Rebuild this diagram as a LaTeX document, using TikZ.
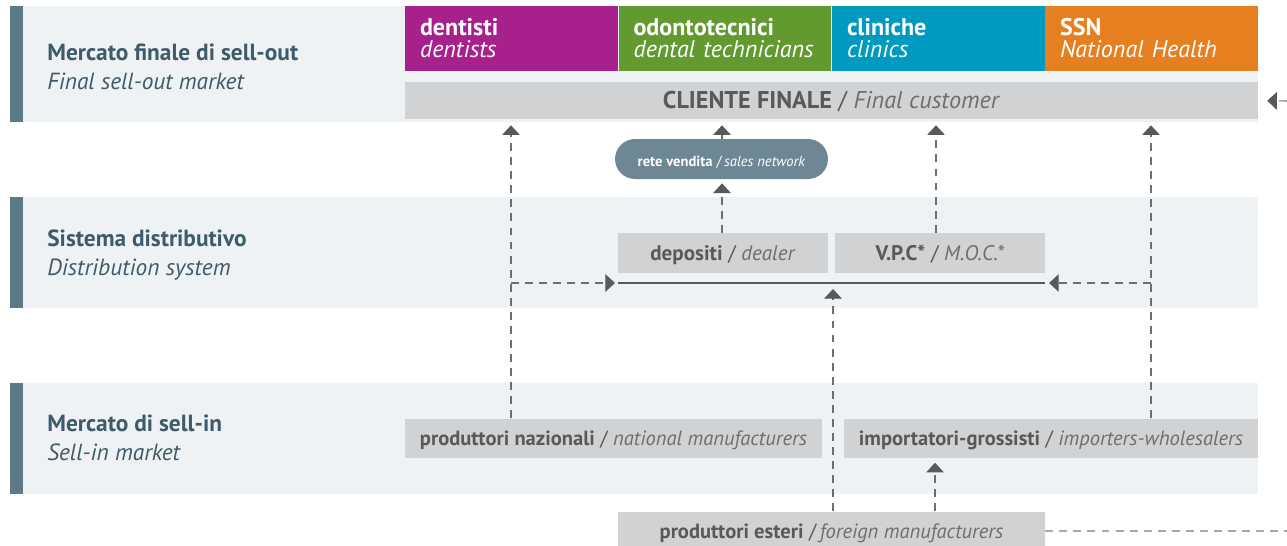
\documentclass[tikz,border=0pt]{standalone}
\usepackage{fontspec}
\setmainfont{PT Sans}
\usetikzlibrary{arrows.meta}
\definecolor{bandbg}{HTML}{EFF2F5}
\definecolor{bandbar}{HTML}{5F7A87}
\definecolor{bandtxt}{HTML}{3E5B6B}
\definecolor{boxgrey}{HTML}{D1D2D4}
\definecolor{txtgrey}{HTML}{58595B}
\definecolor{itgrey}{HTML}{6D6E70}
\definecolor{dentcol}{HTML}{A8208C}
\definecolor{odontcol}{HTML}{629A30}
\definecolor{clincol}{HTML}{0099BF}
\definecolor{ssncol}{HTML}{E67F1F}
\definecolor{retecol}{HTML}{6D8795}
\definecolor{lightdash}{HTML}{A7A9AC}
\begin{document}
\begin{tikzpicture}[x=0.02cm, y=-0.02cm,
  band/.style={fill=bandbg},
  bar/.style={fill=bandbar},
  bandlbl/.style={anchor=base west, align=left, inner sep=0pt, text=bandtxt,
    font=\fontsize{13.3}{16.5}\selectfont},
  custbox/.style={fill=#1, minimum width=4.26cm, minimum height=1.3cm, inner xsep=0.3cm,
    text width=3.66cm, align=left, text=white, font=\fontsize{13.7}{12.5}\selectfont},
  greybox/.style={fill=boxgrey, minimum height=0.78cm, inner sep=0pt, text=txtgrey,
    text height=1.8ex, text depth=0pt, font=\fontsize{11.7}{13}\selectfont},
  flow/.style={draw=itgrey, line width=0.6pt, dash pattern=on 4.5pt off 3.5pt,
    -{Triangle[length=5.5pt, width=10pt, color=txtgrey]}},
  mainline/.style={draw=txtgrey, line width=1.5pt}
]
\useasboundingbox (0,0) rectangle (1287,545);
% bands
\fill[band] (10,6) rectangle (1258,122);
\fill[bar] (10,6) rectangle (23,122);
\fill[band] (10,197) rectangle (1258,308);
\fill[bar] (10,197) rectangle (23,308);
\fill[band] (10,383) rectangle (1258,494);
\fill[bar] (10,383) rectangle (23,494);
\node[bandlbl] (sellout) at (47,89) {\textbf{Mercato finale di sell-out}\\\textit{Final sell-out market}};
\node[bandlbl] (distr) at (47,275) {\textbf{Sistema distributivo}\\\textit{Distribution system}};
\node[bandlbl] (sellin) at (47,460) {\textbf{Mercato di sell-in}\\\textit{Sell-in market}};
% final customers
\node[custbox=dentcol] (dent) at (511.5,38.5) {\textbf{dentisti}\\\textit{dentists}};
\node[custbox=odontcol] (odont) at (725,38.5) {\textbf{odontotecnici}\\\textit{dental technicians}};
\node[custbox=clincol] (clin) at (938.5,38.5) {\textbf{cliniche}\\\textit{clinics}};
\node[custbox=ssncol] (ssn) at (1151.5,38.5) {\textbf{SSN}\\\textit{National Health}};
\node[greybox, minimum width=17.06cm, minimum height=0.74cm, font=\fontsize{13.8}{14}\selectfont]
  (cliente) at (831.5,100.5) {\textbf{CLIENTE FINALE} / \textcolor{itgrey}{\textit{Final customer}}};
\node[fill=retecol, rounded corners=0.4cm, minimum width=4.26cm, minimum height=0.8cm, inner sep=0pt,
  text=white, text height=1.8ex, text depth=0pt, font=\fontsize{8.3}{9}\selectfont]
  (rete) at (721.5,159) {\textbf{rete vendita} /\,\textit{sales network}};
% distribution
\node[greybox, minimum width=4.2cm, minimum height=0.8cm, font=\fontsize{12}{13}\selectfont] (depo) at (723,253)
  {\textbf{depositi} / \textcolor{itgrey}{\textit{dealer}}};
\node[greybox, minimum width=4.2cm, minimum height=0.8cm, font=\fontsize{12}{13}\selectfont] (vpc) at (940,253)
  {\textbf{V.P.C*} / \textcolor{itgrey}{\textit{M.O.C.*}}};
\coordinate (lineL) at (618,283);
\coordinate (lineR) at (1045,283);
\draw[mainline] (lineL) -- (lineR);
% sell-in
\node[greybox, minimum width=8.34cm] (naz) at (613.5,438)
  {\textbf{produttori nazionali} / \textcolor{itgrey}{\textit{national manufacturers}}};
\node[greybox, minimum width=8.28cm] (imp) at (1051,438)
  {\textbf{importatori-grossisti} / \textcolor{itgrey}{\textit{importers-wholesalers}}};
\node[greybox, minimum width=8.54cm] (est) at (831.5,531)
  {\textbf{produttori esteri} /\,\textcolor{itgrey}{\textit{foreign manufacturers}}};
% flows
\coordinate (xnaz) at (511,0);
\coordinate (xvpc) at (936,0);
\coordinate (ximp) at (1151,0);
\coordinate (xest) at (833,0);
\coordinate (xesti) at (935,0);
\coordinate (edgeR) at (1287,101);
\coordinate (edgeB) at (1287,531);
\draw[flow, shorten >=3.4pt] (xnaz |- naz.north) -- (xnaz |- cliente.south);
\draw[flow, shorten >=3.4pt] (rete.north -| 722,0) -- (cliente.south -| 722,0);
\draw[flow, shorten >=2.3pt] (depo.north -| 722,0) -- (rete.south -| 722,0);
\draw[flow, shorten >=3.4pt] (xvpc |- vpc.north) -- (xvpc |- cliente.south);
\draw[flow, shorten >=3.4pt] (ximp |- imp.north) -- (ximp |- cliente.south);
\draw[flow, shorten >=1.7pt] (xnaz |- lineL) -- (lineL);
\draw[flow, shorten >=2.3pt] (ximp |- lineR) -- (lineR);
\draw[flow, shorten >=3.4pt] (xest |- est.north) -- (xest |- lineL);
\draw[flow, shorten >=2.8pt] (xesti |- est.north) -- (xesti |- imp.south);
\draw[flow, shorten >=5.1pt] (edgeR) -- (cliente.east);
\draw[draw=lightdash, line width=0.6pt, dash pattern=on 4.5pt off 3.5pt] (est.east) -- (edgeB);
\end{tikzpicture}
\end{document}
